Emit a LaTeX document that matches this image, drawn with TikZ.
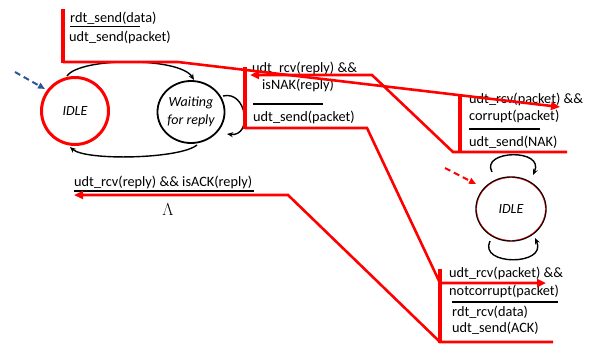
\documentclass[tikz,border=0pt]{standalone}
\usepackage{fontspec}
\setmainfont{Carlito}
\usetikzlibrary{arrows.meta,shapes.geometric}
\begin{document}
\begin{tikzpicture}[x=1pt,y=-1pt,
  lbl/.style={inner sep=0pt, anchor=base west, font=\fontsize{14.3}{17}\selectfont},
  stname/.style={inner sep=0pt, align=center, font=\fontsize{14}{18}\selectfont\itshape},
  redbar/.style={draw=red, line width=4.5pt},
  redline/.style={draw=red, line width=2.6pt, line join=miter},
  redarr/.style={redline, -{Triangle[length=9pt,width=8pt]}},
  blk/.style={draw=black, line width=1.4pt},
  blkarr/.style={blk, -{Stealth[length=6pt,width=5pt]}},
  sep/.style={draw=black, line width=1.6pt},
]
\useasboundingbox (0,0) rectangle (594,343);

% ---------- sender states ----------
\node[circle, draw=red, line width=3pt, minimum size=67pt, inner sep=0pt, stname] (sidle) at (75,111) {IDLE};
\node[ellipse, draw=black, line width=1.8pt, minimum width=66pt, minimum height=62pt, inner sep=0pt, stname] (wait) at (191,112) {Waiting\\for reply};
% ---------- receiver state ----------
\node[ellipse, draw=black, line width=1.4pt, minimum width=70pt, minimum height=64pt, inner sep=0pt, stname] (ridle) at (511,209) {IDLE};
\draw[red, line width=0.4pt] (511,209) ellipse (34.3pt and 31.3pt);

% ---------- sender transitions ----------
\coordinate (sa) at (67,76);
\coordinate (wa) at (194,80);
\draw[blkarr] (sa) .. controls (80,57) and (180,57) .. (wa);
\coordinate (wb) at (197,145);
\coordinate (sb) at (70,147);
\draw[blkarr] (wb) .. controls (180,159) and (86,161) .. (sb);
\coordinate (wl1) at (223,96);
\coordinate (wl2) at (227,134);
\draw[blkarr] (wl1) .. controls (247,90) and (253,137) .. (wl2);
\coordinate (sinit) at (15,72);
\coordinate (sinitend) at (45,89);
\draw[draw={rgb,255:red,47;green,85;blue,151}, line width=2pt, dash pattern=on 6pt off 4pt, -{Triangle[length=7pt,width=6pt]}] (sinit) -- (sinitend);

% ---------- receiver transitions ----------
\coordinate (rl1) at (492,172);
\coordinate (rl2) at (533,175);
\draw[blkarr] (rl1) .. controls (480,150) and (545,148) .. (rl2);
\coordinate (rl3) at (490,241);
\coordinate (rl4) at (535,238);
\draw[blkarr] (rl3) .. controls (478,266) and (548,266) .. (rl4);
\coordinate (rinit) at (445,168);
\coordinate (rinitend) at (476,184);
\draw[red, line width=2pt, dash pattern=on 6pt off 4pt, -{Triangle[length=7pt,width=6pt]}] (rinit) -- (rinitend);

% ---------- labels: sender ----------
\node[lbl] (l1) at (70,22) {rdt\_send(data)};
\draw[sep] (70,26.5) -- (140,26.5);
\node[lbl] (l2) at (69,41) {udt\_send(packet)};

\node[lbl] (n1) at (252,72) {udt\_rcv(reply) \&\&};
\node[lbl] (n2) at (262,89) {isNAK(reply)};
\draw[sep] (253,104) -- (323,104);
\node[lbl] (n3) at (253,121) {udt\_send(packet)};

\node[lbl] (a1) at (74,186) {udt\_rcv(reply) \&\& isACK(reply)};
\draw[sep] (74,191) -- (254,191);
\node[font=\fontsize{16}{18}\selectfont, inner sep=0pt] (lam) at (168,210) {$\Lambda$};

% ---------- labels: receiver ----------
\node[lbl] (c1) at (469,103) {udt\_rcv(packet) \&\&};
\node[lbl] (c2) at (469,120) {corrupt(packet)};
\draw[sep] (469,129) -- (540,129);
\node[lbl] (c3) at (469,146) {udt\_send(NAK)};

\node[lbl] (k1) at (449,277) {udt\_rcv(packet) \&\&};
\node[lbl] (k2) at (449,295) {notcorrupt(packet)};
\draw[sep] (452,302) -- (558,302);
\node[lbl] (k3) at (452,316) {rdt\_rcv(data)};
\node[lbl] (k4) at (452,332) {udt\_send(ACK)};

% ---------- red message-sequence overlay ----------
% sender sends packet
\coordinate (p0) at (63,9);
\coordinate (p1) at (63,62);
\coordinate (p2) at (178,62);
\coordinate (p3) at (560,107);
\draw[redbar] (p0) -- ([yshift=-1.3pt]p1);
\draw[redarr] (p1) -- (p2) -- (p3);
% receiver replies NAK
\coordinate (q0) at (460,96);
\coordinate (q1) at (567,152);
\coordinate (q2) at (453,152);
\coordinate (q3) at (372,75);
\coordinate (q4) at (250,75);
\draw[redbar] (q0) -- (460,153);
\draw[redarr] (q1) -- (q2) -- (q3) -- (q4);
% sender retransmits
\coordinate (u0) at (245,67);
\coordinate (u1) at (245,128);
\coordinate (u2) at (367,128);
\coordinate (u3) at (440,283);
\coordinate (u4) at (546,283);
\draw[redbar] (u0) -- ([yshift=-1.3pt]u1);
\draw[redarr] (u1) -- (u2) -- (u3) -- (u4);
% receiver replies ACK
\coordinate (v0) at (440,269);
\coordinate (v1) at (553,342);
\coordinate (v2) at (440,342);
\coordinate (v3) at (288,195);
\coordinate (v4) at (74,195);
\draw[redbar] (v0) -- (440,343);
\draw[redarr] (v1) -- (v2) -- (v3) -- (v4);
\end{tikzpicture}
\end{document}
